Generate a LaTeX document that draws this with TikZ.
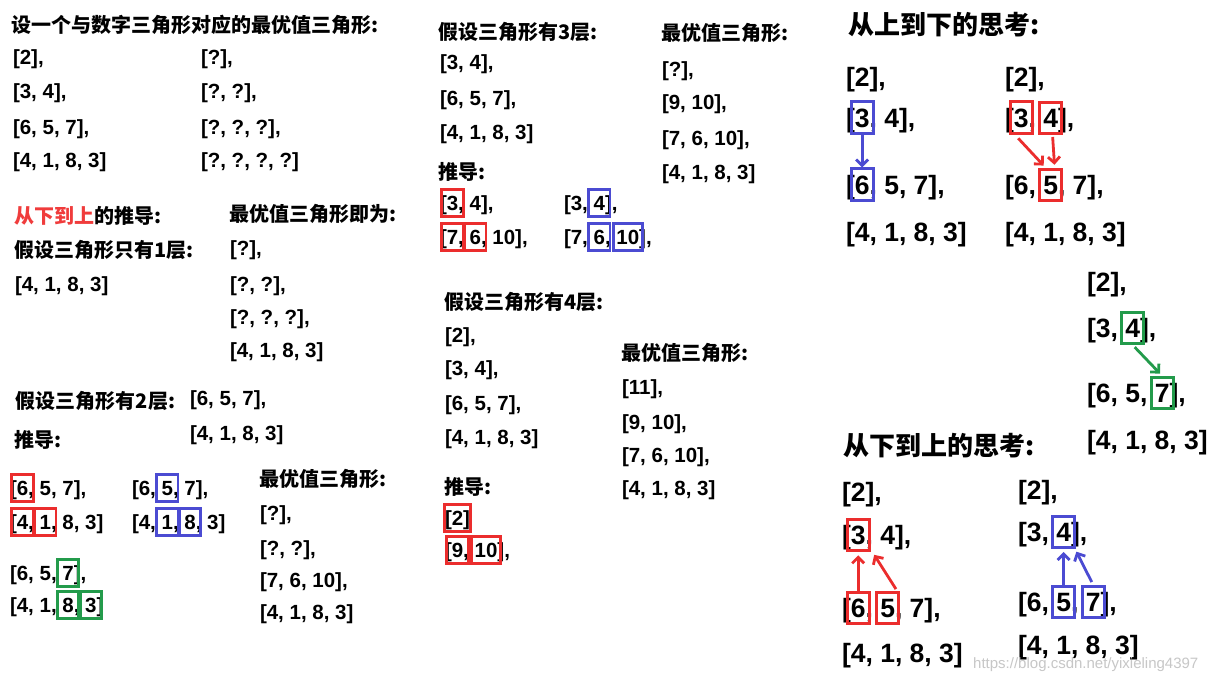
\documentclass[tikz,border=0pt]{standalone}
\usepackage{fontspec}
\setmainfont{Liberation Sans}
\newfontfamily\cjk{Noto Sans CJK SC}
\usetikzlibrary{fit,arrows.meta,calc}
\definecolor{cred}{RGB}{235,45,45}
\definecolor{cblue}{RGB}{75,75,210}
\definecolor{cgreen}{RGB}{35,155,75}
\definecolor{hred}{RGB}{240,60,60}
\newcommand\fsm{\bfseries\fontsize{20.5}{24}\selectfont}
\newcommand\flg{\bfseries\fontsize{26.5}{30}\selectfont}
\newcommand\hsm{\cjk\bfseries\fontsize{20}{24}\selectfont}
\newcommand\hlg{\cjk\bfseries\fontsize{26}{30}\selectfont}
\newcommand\tsp{\ \null}
\tikzset{
  ts/.style={inner sep=0pt, outer sep=0pt, font=\fsm, anchor=base west},
  tl/.style={inner sep=0pt, outer sep=0pt, font=\flg, anchor=base west},
  hs/.style={inner sep=0pt, outer sep=0pt, font=\hsm, anchor=west},
  hl/.style={inner sep=0pt, outer sep=0pt, font=\hlg, anchor=west},
  nx/.style={anchor=base west, at={(#1.base east)}},
  bs/.style={draw=#1, line width=2.9pt, inner xsep=5pt, inner ysep=6.5pt},
  bl/.style={draw=#1, line width=3pt, inner xsep=3.5pt, inner ysep=6.5pt},
  ar/.style={draw=#1, line width=2.8pt, -{Straight Barb[length=6pt,width=12pt]}},
  wm/.style={inner sep=0pt, font=\fontsize{15}{18}\selectfont, text=black!22, anchor=west}
}
\begin{document}
\begin{tikzpicture}[x=1pt,y=-1pt]
\fill[white] (0,0) rectangle (1221,685);
\useasboundingbox (0,0) rectangle (1221,685);
% ---------- left column, top
\node[hs] (h1) at (12,25) {设一个与数字三角形对应的最优值三角形:};
\node[ts] (a1) at (13,64) {[2],};
\node[ts] (a2) at (13,99) {[3, 4],};
\node[ts] (a3) at (13,134) {[6, 5, 7],};
\node[ts] (a4) at (13,167) {[4, 1, 8, 3]};
\node[ts] (q1) at (201,64) {[?],};
\node[ts] (q2) at (201,99) {[?, ?],};
\node[ts] (q3) at (201,134) {[?, ?, ?],};
\node[ts] (q4) at (201,167) {[?, ?, ?, ?]};
% ---------- one layer
\node[hs] (h2) at (14,216) {{\color{hred}从下到上}的推导:};
\node[hs] (h3) at (229,214) {最优值三角形即为:};
\node[hs] (h4) at (14,250) {假设三角形只有1层:};
\node[ts] (b1) at (15,291) {[4, 1, 8, 3]};
\node[ts] (r1) at (230,255) {[?],};
\node[ts] (r2) at (230,291) {[?, ?],};
\node[ts] (r3) at (230,324) {[?, ?, ?],};
\node[ts] (r4) at (230,357) {[4, 1, 8, 3]};
% ---------- two layers
\node[hs] (h5) at (16,401) {假设三角形有2层:};
\node[ts] (c1) at (190,405) {[6, 5, 7],};
\node[ts] (c2) at (190,440) {[4, 1, 8, 3]};
\node[hs] (h6) at (14,440) {推导:};
% group 1
\node[ts] (g1a) at (10,495) {[};
\node[ts,nx=g1a] (g1b) {6};
\node[ts,nx=g1b] (g1c) {, 5, 7],};
\node[ts] (g1d) at (10,529) {[};
\node[ts,nx=g1d] (g1e) {4};
\node[ts,nx=g1e] (g1f) {,\tsp};
\node[ts,nx=g1f] (g1g) {1};
\node[ts,nx=g1g] (g1h) {, 8, 3]};
\node[bs=cred, fit=(g1b)] (k1) {};
\node[bs=cred, fit=(g1e)] (k2) {};
\node[bs=cred, fit=(g1g)] (k3) {};
% group 2
\node[ts] (g2a) at (132,495) {[6,\tsp};
\node[ts,nx=g2a] (g2b) {5};
\node[ts,nx=g2b] (g2c) {, 7],};
\node[ts] (g2d) at (132,529) {[4,\tsp};
\node[ts,nx=g2d] (g2e) {1};
\node[ts,nx=g2e] (g2f) {,\tsp};
\node[ts,nx=g2f] (g2g) {8};
\node[ts,nx=g2g] (g2h) {, 3]};
\node[bs=cblue, fit=(g2b)] (k4) {};
\node[bs=cblue, fit=(g2e)] (k5) {};
\node[bs=cblue, fit=(g2g)] (k6) {};
% group 3
\node[ts] (g3a) at (10,580) {[6, 5,\tsp};
\node[ts,nx=g3a] (g3b) {7};
\node[ts,nx=g3b] (g3c) {],};
\node[ts] (g3d) at (10,612) {[4, 1,\tsp};
\node[ts,nx=g3d] (g3e) {8};
\node[ts,nx=g3e] (g3f) {,\tsp};
\node[ts,nx=g3f] (g3g) {3};
\node[ts,nx=g3g] (g3h) {]};
\node[bs=cgreen, fit=(g3b)] (k7) {};
\node[bs=cgreen, fit=(g3e)] (k8) {};
\node[bs=cgreen, fit=(g3g)] (k9) {};
% result
\node[hs] (h7) at (259,479) {最优值三角形:};
\node[ts] (s1) at (260,520) {[?],};
\node[ts] (s2) at (260,555) {[?, ?],};
\node[ts] (s3) at (260,587) {[7, 6, 10],};
\node[ts] (s4) at (260,619) {[4, 1, 8, 3]};
% ---------- middle: three layers
\node[hs] (h8) at (438,32) {假设三角形有3层:};
\node[ts] (d1) at (440,70) {[3, 4],};
\node[ts] (d2) at (440,105) {[6, 5, 7],};
\node[ts] (d3) at (440,139) {[4, 1, 8, 3]};
\node[hs] (h9) at (661,33) {最优值三角形:};
\node[ts] (e1) at (662,77) {[?],};
\node[ts] (e2) at (662,110) {[9, 10],};
\node[ts] (e3) at (662,145) {[7, 6, 10],};
\node[ts] (e4) at (662,179) {[4, 1, 8, 3]};
\node[hs] (h10) at (438,172) {推导:};
\node[ts] (m1a) at (440,210) {[};
\node[ts,nx=m1a] (m1b) {3};
\node[ts,nx=m1b] (m1c) {, 4],};
\node[ts] (m1d) at (440,244) {[};
\node[ts,nx=m1d] (m1e) {7};
\node[ts,nx=m1e] (m1f) {,\tsp};
\node[ts,nx=m1f] (m1g) {6};
\node[ts,nx=m1g] (m1h) {, 10],};
\node[bs=cred, fit=(m1b)] (k10) {};
\node[bs=cred, fit=(m1e)] (k11) {};
\node[bs=cred, fit=(m1g)] (k12) {};
\node[ts] (m2a) at (564,210) {[3,\tsp};
\node[ts,nx=m2a] (m2b) {4};
\node[ts,nx=m2b] (m2c) {],};
\node[ts] (m2d) at (564,244) {[7,\tsp};
\node[ts,nx=m2d] (m2e) {6};
\node[ts,nx=m2e] (m2f) {,\tsp};
\node[ts,nx=m2f] (m2g) {10};
\node[ts,nx=m2g] (m2h) {],};
\node[bs=cblue, fit=(m2b)] (k13) {};
\node[bs=cblue, fit=(m2e)] (k14) {};
\node[bs=cblue, inner xsep=3pt, fit=(m2g)] (k15) {};
% ---------- middle: four layers
\node[hs] (h11) at (444,302) {假设三角形有4层:};
\node[ts] (f1) at (445,342) {[2],};
\node[ts] (f2) at (445,375) {[3, 4],};
\node[ts] (f3) at (445,410) {[6, 5, 7],};
\node[ts] (f4) at (445,444) {[4, 1, 8, 3]};
\node[hs] (h12) at (621,353) {最优值三角形:};
\node[ts] (o1) at (622,394) {[11],};
\node[ts] (o2) at (622,429) {[9, 10],};
\node[ts] (o3) at (622,462) {[7, 6, 10],};
\node[ts] (o4) at (622,495) {[4, 1, 8, 3]};
\node[hs] (h13) at (444,487) {推导:};
\node[ts] (n1a) at (445,525) {[};
\node[ts,nx=n1a] (n1b) {2};
\node[ts,nx=n1b] (n1c) {]};
\node[ts] (n2a) at (445,557) {[};
\node[ts,nx=n2a] (n2b) {9};
\node[ts,nx=n2b] (n2c) {,\tsp};
\node[ts,nx=n2c] (n2d) {10};
\node[ts,nx=n2d] (n2e) {],};
\node[bs=cred, inner xsep=7pt, fit=(n1b)] (k16) {};
\node[bs=cred, fit=(n2b)] (k17) {};
\node[bs=cred, inner xsep=3pt, fit=(n2d)] (k18) {};
% ---------- right: top-down
\node[hl] (h14) at (848,25) {从上到下的思考:};
% group A
\node[tl] (A1) at (846,86) {[2],};
\node[tl] (A2a) at (846,127) {[};
\node[tl,nx=A2a] (A2b) {3};
\node[tl,nx=A2b] (A2c) {, 4],};
\node[tl] (A3a) at (846,194) {[};
\node[tl,nx=A3a] (A3b) {6};
\node[tl,nx=A3b] (A3c) {, 5, 7],};
\node[tl] (A4) at (846,241) {[4, 1, 8, 3]};
\node[bl=cblue, fit=(A2b)] (KA1) {};
\node[bl=cblue, fit=(A3b)] (KA2) {};
\draw[ar=cblue] (KA1.south) -- (KA2.north);
% group B
\node[tl] (B1) at (1005,86) {[2],};
\node[tl] (B2a) at (1005,127) {[};
\node[tl,nx=B2a] (B2b) {3};
\node[tl,nx=B2b] (B2c) {,\tsp};
\node[tl,nx=B2c] (B2d) {4};
\node[tl,nx=B2d] (B2e) {],};
\node[tl] (B3a) at (1005,194) {[6,\tsp};
\node[tl,nx=B3a] (B3b) {5};
\node[tl,nx=B3b] (B3c) {, 7],};
\node[tl] (B4) at (1005,241) {[4, 1, 8, 3]};
\node[bl=cred, fit=(B2b)] (KB1) {};
\node[bl=cred, fit=(B2d)] (KB2) {};
\node[bl=cred, fit=(B3b)] (KB3) {};
\draw[ar=cred, shorten >=3pt] ($(KB1.south)+(-3,3)$) -- ($(KB3.north west)!0.3!(KB3.north east)$);
\draw[ar=cred, shorten >=3pt] ($(KB2.south)+(2,2)$) -- ($(KB3.north)+(4,0)$);
% group C
\node[tl] (C1) at (1087,291) {[2],};
\node[tl] (C2a) at (1087,337) {[3,\tsp};
\node[tl,nx=C2a] (C2b) {4};
\node[tl,nx=C2b] (C2c) {],};
\node[tl] (C3a) at (1087,402) {[6, 5,\tsp};
\node[tl,nx=C3a] (C3b) {7};
\node[tl,nx=C3b] (C3c) {],};
\node[tl] (C4) at (1087,449) {[4, 1, 8, 3]};
\node[bl=cgreen, fit=(C2b)] (KC1) {};
\node[bl=cgreen, fit=(C3b)] (KC2) {};
\draw[ar=cgreen, shorten <=3pt, shorten >=3pt] (KC1.south) -- (KC2.north);
% ---------- right: bottom-up
\node[hl] (h15) at (843,446) {从下到上的思考:};
% group D
\node[tl] (D1) at (842,501) {[2],};
\node[tl] (D2a) at (842,544) {[};
\node[tl,nx=D2a] (D2b) {3};
\node[tl,nx=D2b] (D2c) {, 4],};
\node[tl] (D3a) at (842,617) {[};
\node[tl,nx=D3a] (D3b) {6};
\node[tl,nx=D3b] (D3c) {,\tsp};
\node[tl,nx=D3c] (D3d) {5};
\node[tl,nx=D3d] (D3e) {, 7],};
\node[tl] (D4) at (842,662) {[4, 1, 8, 3]};
\node[bl=cred, fit=(D2b)] (KD1) {};
\node[bl=cred, fit=(D3b)] (KD2) {};
\node[bl=cred, fit=(D3d)] (KD3) {};
\draw[ar=cred, shorten >=3pt] (KD2.north) -- (KD1.south);
\draw[ar=cred, shorten <=2pt, shorten >=3pt] ($(KD3.north east)+(-3,0)$) -- ($(KD1.south east)+(2,0)$);
% group E
\node[tl] (E1) at (1018,499) {[2],};
\node[tl] (E2a) at (1018,541) {[3,\tsp};
\node[tl,nx=E2a] (E2b) {4};
\node[tl,nx=E2b] (E2c) {],};
\node[tl] (E3a) at (1018,611) {[6,\tsp};
\node[tl,nx=E3a] (E3b) {5};
\node[tl,nx=E3b] (E3c) {,\tsp};
\node[tl,nx=E3c] (E3d) {7};
\node[tl,nx=E3d] (E3e) {],};
\node[tl] (E4) at (1018,654) {[4, 1, 8, 3]};
\node[bl=cblue, fit=(E2b)] (KE1) {};
\node[bl=cblue, fit=(E3b)] (KE2) {};
\node[bl=cblue, fit=(E3d)] (KE3) {};
\draw[ar=cblue, shorten >=3pt] (KE2.north) -- (KE1.south);
\draw[ar=cblue, shorten <=3pt, shorten >=3pt] (KE3.north) -- ($(KE1.south east)+(-1,0)$);
% watermark
\node[wm] (wm) at (973,665) {https://blog.csdn.net/yixieling4397};
\end{tikzpicture}
\end{document}
